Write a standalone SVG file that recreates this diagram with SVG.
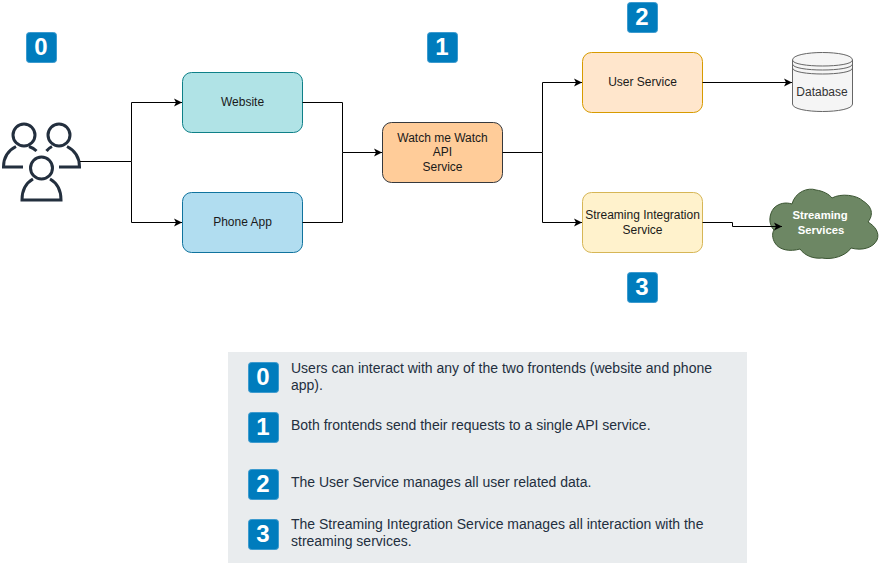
<svg xmlns="http://www.w3.org/2000/svg" width="885" height="564" viewBox="0 0 885 564">
<style>
text{font-family:"Liberation Sans",Arial,sans-serif;font-size:12px;fill:#1a1a1a;text-anchor:middle}
.box{stroke-width:1}
.badge-r{fill:#007cbd;stroke:#3d9bcf;stroke-width:1}
.badge-t{font-size:24px;font-weight:bold;fill:#fff}
.leg{font-size:14px;text-anchor:start;fill:#232f3e}
.conn{fill:none;stroke:#000;stroke-width:1}
.usr{fill:none;stroke:#232f3e;stroke-width:3}
</style>
<defs>
<marker id="arr" markerUnits="userSpaceOnUse" markerWidth="12" markerHeight="10" refX="8" refY="4" orient="auto" viewBox="0 0 12 8">
<path d="M0 0L8 4L0 8L2 4Z" fill="#000"/>
</marker>
</defs>
<rect id="legend" x="228" y="352" width="519" height="211" fill="#e9ecee"/>
<g id="users">
<circle class="usr" cx="24" cy="135" r="11"/>
<circle class="usr" cx="59" cy="135" r="11"/>
<circle class="usr" cx="41.500" cy="168" r="11"/>
<path class="usr" d="M23 167H3.500C3.500 157 9 150 16 146.500M29 146.500C32 147.500 34.500 149 36.500 151"/>
<path class="usr" d="M59 167H79.500C79.500 157 74 150 67 146.500M52 146.500C50 147.500 48 149 46.500 151"/>
<path class="usr" d="M33 179C26 183 22 191 22 200H61C61 191 57 183 50 179"/>
</g>
<g id="website"><rect class="box" x="182.500" y="72.500" width="120" height="60" rx="9" fill="#b0e3e6" stroke="#0e8088"/><text x="242.500" y="106">Website</text></g>
<g id="phone-app"><rect class="box" x="182.500" y="192.500" width="120" height="60" rx="9" fill="#b1ddf0" stroke="#10739e"/><text x="242.500" y="226">Phone App</text></g>
<g id="api-service"><rect class="box" x="382.500" y="122.500" width="120" height="60" rx="9" fill="#ffcc99" stroke="#36393d"/><text x="442.500" y="142">Watch me Watch</text><text x="442.500" y="156">API</text><text x="442.500" y="171">Service</text></g>
<g id="user-service"><rect class="box" x="582.500" y="52.500" width="120" height="60" rx="9" fill="#ffe6cc" stroke="#d79b00"/><text x="642.500" y="86">User Service</text></g>
<g id="streaming-integration"><rect class="box" x="582.500" y="192.500" width="120" height="60" rx="9" fill="#fff2cc" stroke="#d6b656"/><text x="642.500" y="219">Streaming Integration</text><text x="642.500" y="234">Service</text></g>
<g id="database">
<path d="M792.500 60C792.500 50 852.500 50 852.500 60V104C852.500 114 792.500 114 792.500 104Z" fill="#f5f5f5" stroke="#666"/>
<path d="M792.500 60C792.500 68 852.500 68 852.500 60M792.500 64C792.500 72 852.500 72 852.500 64M792.500 68C792.500 76 852.500 76 852.500 68" fill="none" stroke="#666"/>
<text x="822" y="96" style="fill:#333">Database</text>
</g>
<g id="streaming-services">
<path d="M792 204C795 192 808 187 816 190C823 191 829 194 832 198C841 193 857 195 863 201C870 205 875 213 868 222C875 226 880 233 877 240C873 248 862 251 851 248C846 256 832 260 822 258C814 259 805 256 800 249C790 252 779 250 775 243C772 238 772 233 774 230C768 224 769 214 774 208C779 203 786 202 792 204Z" fill="#6d8764" stroke="#3a5431"/>
<text x="820" y="219" font-weight="bold" style="fill:#fff;font-size:11.300px">Streaming</text>
<text x="821" y="234" font-weight="bold" style="fill:#fff;font-size:11.300px">Services</text>
</g>
<g id="connectors">
<path class="conn" d="M80 161.500H131.500V102.500H182" marker-end="url(#arr)"/>
<path class="conn" d="M131.500 161.500V222.500H182" marker-end="url(#arr)"/>
<path class="conn" d="M302.500 102.500H342.500V152.500H382" marker-end="url(#arr)"/>
<path class="conn" d="M302.500 222.500H342.500V152.500"/>
<path class="conn" d="M502.500 152.500H542.500V82.500H582" marker-end="url(#arr)"/>
<path class="conn" d="M542.500 152.500V222.500H582" marker-end="url(#arr)"/>
<path class="conn" d="M702.500 82.500H792" marker-end="url(#arr)"/>
<path class="conn" d="M702.500 222.500H732.500V226.500H782" marker-end="url(#arr)"/>
</g>
<g id="badge-0-top"><rect class="badge-r" x="26.500" y="32.500" width="30" height="30" rx="3"/><text class="badge-t" x="41" y="55">0</text></g>
<g id="badge-1-top"><rect class="badge-r" x="427.500" y="32.500" width="30" height="30" rx="3"/><text class="badge-t" x="442" y="55">1</text></g>
<g id="badge-2-top"><rect class="badge-r" x="627.500" y="2.500" width="30" height="30" rx="3"/><text class="badge-t" x="642" y="25">2</text></g>
<g id="badge-3-top"><rect class="badge-r" x="627.500" y="272.500" width="30" height="30" rx="3"/><text class="badge-t" x="642" y="295">3</text></g>
<g id="legend-0"><rect class="badge-r" x="248.500" y="362.500" width="30" height="30" rx="3"/><text class="badge-t" x="263" y="385">0</text><text class="leg" x="291" y="373">Users can interact with any of the two frontends (website and phone</text><text class="leg" x="291" y="390">app).</text></g>
<g id="legend-1"><rect class="badge-r" x="248.500" y="412.500" width="30" height="30" rx="3"/><text class="badge-t" x="263" y="435">1</text><text class="leg" x="291" y="430">Both frontends send their requests to a single API service.</text></g>
<g id="legend-2"><rect class="badge-r" x="248.500" y="469.500" width="30" height="30" rx="3"/><text class="badge-t" x="263" y="492">2</text><text class="leg" x="291" y="487">The User Service manages all user related data.</text></g>
<g id="legend-3"><rect class="badge-r" x="248.500" y="519.500" width="30" height="30" rx="3"/><text class="badge-t" x="263" y="542">3</text><text class="leg" x="291" y="529">The Streaming Integration Service manages all interaction with the</text><text class="leg" x="291" y="546">streaming services.</text></g>
</svg>
